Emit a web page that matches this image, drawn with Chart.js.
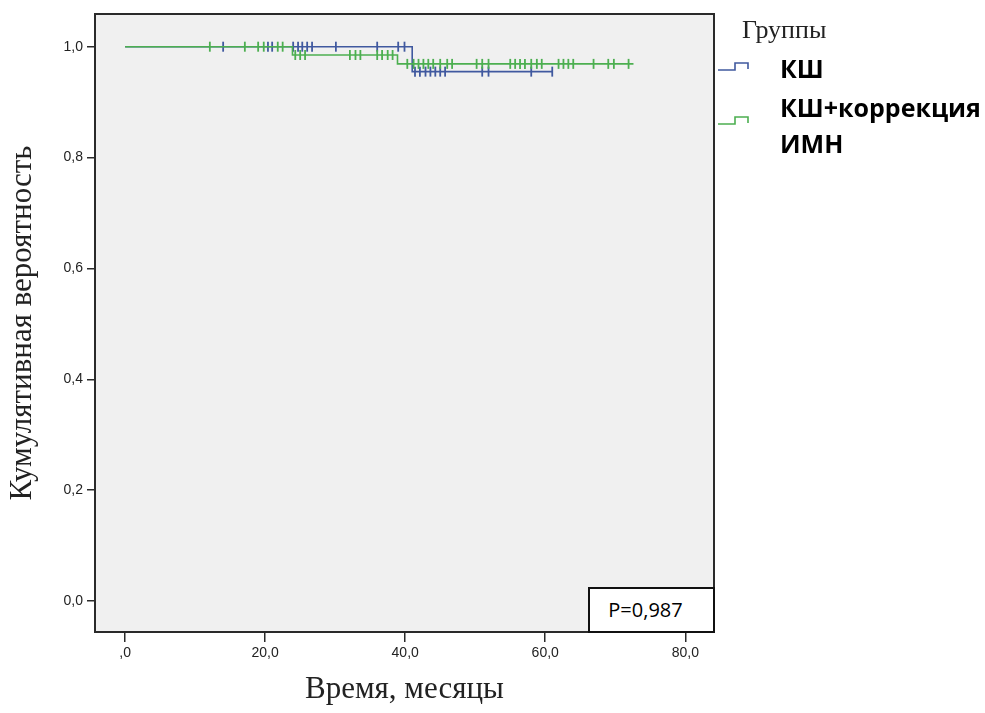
<!DOCTYPE html>
<html>
<head>
<meta charset="utf-8">
<script src="https://cdn.jsdelivr.net/npm/chart.js@4"></script>
<style>
  html, body { margin: 0; padding: 0; background: #ffffff; }
  #wrap { position: relative; width: 985px; height: 713px; overflow: hidden; }
  canvas { position: absolute; left: 0; top: 0; }
  .lg { position: absolute; white-space: nowrap; }
  .gt { font-family: "Liberation Serif", "DejaVu Serif", serif; font-size: 26px; line-height: 26px; color: #222; }
  .it { font-family: "Open Sans", "Noto Sans", sans-serif; font-weight: 700; font-size: 25px; line-height: 30px; color: #000; }
  #pbox { position: absolute; box-sizing: border-box; border: 2px solid #111; background: #ffffff;
          font-family: "Open Sans", "Noto Sans", sans-serif; font-size: 20px; color: #000; text-align: center; padding-right: 12px; }
</style>
</head>
<body>
<div id="wrap">
  <canvas id="c" width="985" height="713"></canvas>
  <svg id="sym" width="985" height="713" style="position:absolute;left:0;top:0;pointer-events:none"></svg>
  <div class="lg gt" style="left:742px;top:17px">Группы</div>
  <div class="lg it" style="left:780px;top:53px">КШ</div>
  <div class="lg it" style="left:780px;top:92px">КШ+коррекция</div>
  <div class="lg it" style="left:780px;top:128px">ИМН</div>
  <div id="pbox"></div>
</div>
<script>
// ---------- data ----------
const groupNames = ["КШ", "КШ+коррекция ИМН"];
const pValueText = "P=0,987";

// КШ: event times (drops) and survival after each event
const kshEventTimes = [0, 41.0];
const kshSurvival   = [1.0, 0.955];
const kshEndTime    = 61.1;
const kshCensored   = [14.0, 20.4, 21.0, 24.0, 24.7, 25.3, 26.0, 26.7, 30.1, 36.0, 39.0, 39.9,
                       41.4, 42.1, 42.9, 43.6, 44.3, 45.0, 45.7, 51.0, 51.9, 58.0, 61.0];

// КШ+коррекция ИМН
const imnEventTimes = [0, 23.9, 38.9];
const imnSurvival   = [1.0, 0.985, 0.969];
const imnEndTime    = 72.6;
const imnCensored   = [12.1, 17.1, 19.0, 19.8, 21.8, 22.5,
                       24.3, 25.0, 25.7, 32.1, 32.9, 33.6, 36.0, 36.7, 37.5, 38.2,
                       40.3, 41.2, 41.9, 42.6, 43.3, 44.0, 45.0, 46.0, 46.7,
                       50.2, 51.0, 51.9, 55.0, 55.7, 56.4, 57.1, 58.0, 58.8, 59.5,
                       61.9, 62.6, 63.3, 64.0, 66.9, 69.0, 69.8, 71.9];

const xTickValues = [0, 20, 40, 60, 80];
const xTickLabels = [",0", "20,0", "40,0", "60,0", "80,0"];
const yTickValues = [0, 0.2, 0.4, 0.6, 0.8, 1.0];
const yTickLabels = ["0,0", "0,2", "0,4", "0,6", "0,8", "1,0"];

const xTitle = "Время, месяцы";
const yTitle = "Кумулятивная вероятность";

// ---------- helpers ----------
function stepLine(times, surv, end) {
  const pts = times.map((t, i) => ({ x: t, y: surv[i] }));
  pts.push({ x: end, y: surv[surv.length - 1] });
  return pts;
}
function survAt(times, surv, t) {
  let s = surv[0];
  for (let i = 0; i < times.length; i++) if (times[i] <= t) s = surv[i];
  return s;
}
function censorPts(times, surv, cens) {
  return cens.map(t => ({ x: t, y: survAt(times, surv, t) }));
}

const BLUE = "#40599f";
const GREEN = "#4caf50";
const FRAME = "#2a2a2a";

document.getElementById("pbox").textContent = pValueText;

const bgPlugin = {
  id: "bgFrame",
  beforeDatasetsDraw(chart) {
    const a = chart.chartArea, ctx = chart.ctx;
    ctx.save();
    ctx.fillStyle = "#f0f0f0";
    ctx.fillRect(a.left, a.top, a.right - a.left, a.bottom - a.top);
    ctx.restore();
  },
  afterDatasetsDraw(chart) {
    const a = chart.chartArea, ctx = chart.ctx;
    ctx.save();
    ctx.strokeStyle = FRAME;
    ctx.lineWidth = 2;
    ctx.strokeRect(a.left, a.top, a.right - a.left, a.bottom - a.top);
    ctx.restore();
    const pb = document.getElementById("pbox");
    const w = 127, h = 46;
    pb.style.left = (a.right - w + 1) + "px";
    pb.style.top = (a.bottom - h + 1) + "px";
    pb.style.width = w + "px";
    pb.style.height = h + "px";
    pb.style.lineHeight = (h - 4) + "px";
  }
};

const ctx = document.getElementById("c").getContext("2d");
new Chart(ctx, {
  type: "line",
  data: {
    datasets: [
      { label: groupNames[1], data: stepLine(imnEventTimes, imnSurvival, imnEndTime),
        borderColor: GREEN, borderWidth: 1.6, stepped: "before", pointRadius: 0, fill: false, order: 0 },
      { label: groupNames[0], data: stepLine(kshEventTimes, kshSurvival, kshEndTime),
        borderColor: BLUE, borderWidth: 1.6, stepped: "before", pointRadius: 0, fill: false, order: 1 },
      { label: groupNames[1] + " censored", data: censorPts(imnEventTimes, imnSurvival, imnCensored),
        showLine: false, pointStyle: "line", rotation: 90, pointRadius: 5, pointBorderWidth: 1.8,
        borderColor: GREEN, backgroundColor: GREEN, order: 0 },
      { label: groupNames[0] + " censored", data: censorPts(kshEventTimes, kshSurvival, kshCensored),
        showLine: false, pointStyle: "line", rotation: 90, pointRadius: 5, pointBorderWidth: 1.8,
        borderColor: BLUE, backgroundColor: BLUE, order: 1 }
    ]
  },
  options: {
    responsive: false,
    animation: false,
    devicePixelRatio: 1,
    layout: { padding: { left: 0, top: 14, right: 271, bottom: 0 } },
    plugins: { legend: { display: false }, tooltip: { enabled: false } },
    scales: {
      x: {
        type: "linear", min: -4.3, max: 84.1,
        afterFit(s) { s.height = 81; },
        afterBuildTicks(s) { s.ticks = xTickValues.map(v => ({ value: v })); },
        ticks: {
          autoSkip: false, maxRotation: 0, padding: 3, color: "#222",
          font: { family: "'Liberation Sans', Arial, sans-serif", size: 14 },
          callback(v) { const i = xTickValues.indexOf(v); return i >= 0 ? xTickLabels[i] : ""; }
        },
        grid: { display: true, drawOnChartArea: false, drawTicks: true, tickLength: 10, color: FRAME, lineWidth: 1.5 },
        border: { display: false },
        title: { display: true, text: xTitle, color: "#222", padding: { top: 0, bottom: 5 },
                 font: { family: "'Liberation Serif', 'DejaVu Serif', serif", size: 31 } }
      },
      y: {
        type: "linear", min: -0.056, max: 1.059,
        afterFit(s) { s.width = 95; },
        afterBuildTicks(s) { s.ticks = yTickValues.map(v => ({ value: v })); },
        ticks: {
          autoSkip: false, padding: 4, color: "#222",
          font: { family: "'Liberation Sans', Arial, sans-serif", size: 14 },
          callback(v) { const i = yTickValues.findIndex(t => Math.abs(t - v) < 1e-9); return i >= 0 ? yTickLabels[i] : ""; }
        },
        grid: { display: true, drawOnChartArea: false, drawTicks: true, tickLength: 8, color: FRAME, lineWidth: 1.5 },
        border: { display: false },
        title: { display: true, text: yTitle, color: "#222", padding: { top: 4, bottom: 0 },
                 font: { family: "'Liberation Serif', 'DejaVu Serif', serif", size: 31 } }
      }
    }
  },
  plugins: [bgPlugin]
});

// legend step symbols
const svg = document.getElementById("sym");
function sym(y, color) {
  const p = document.createElementNS("http://www.w3.org/2000/svg", "polyline");
  p.setAttribute("points", `718,${y + 7} 735,${y + 7} 735,${y} 748,${y} 748,${y + 6}`);
  p.setAttribute("fill", "none");
  p.setAttribute("stroke", color);
  p.setAttribute("stroke-width", "1.6");
  svg.appendChild(p);
}
sym(63, BLUE);
sym(117, GREEN);
</script>
</body>
</html>
